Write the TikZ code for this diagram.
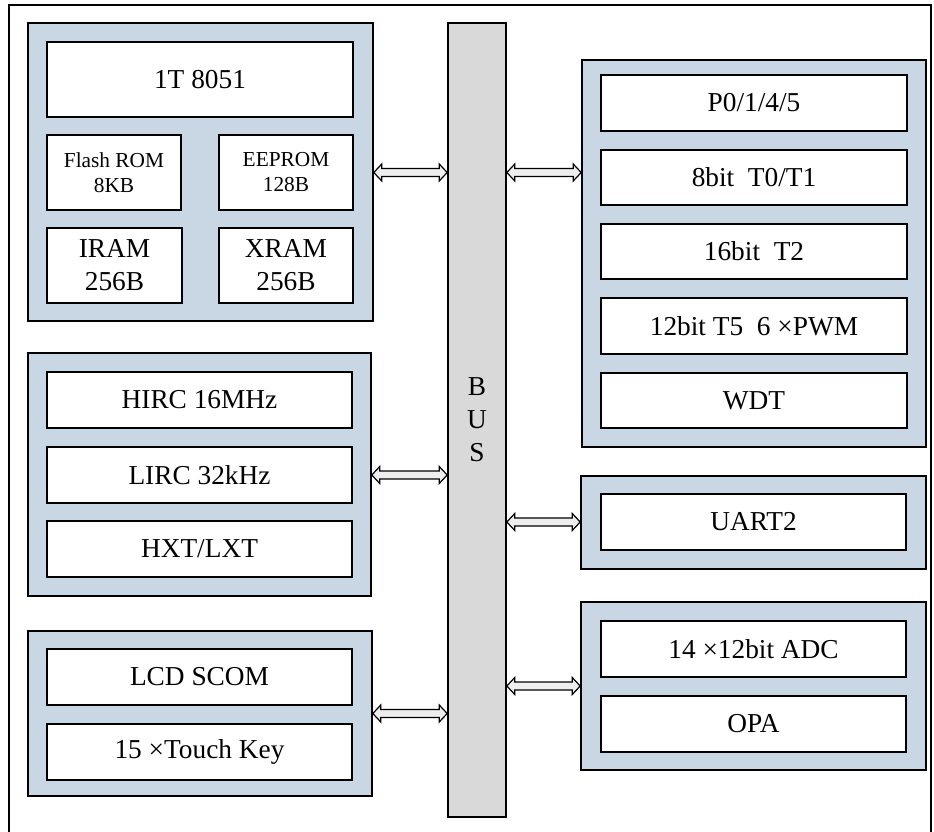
\documentclass[tikz,border=0pt]{standalone}
\usepackage{fontspec}
\setmainfont{Liberation Serif}
\usetikzlibrary{calc}
\definecolor{grpblue}{RGB}{201,214,228}
\definecolor{busgray}{RGB}{217,217,217}
\definecolor{linkfill}{RGB}{238,238,238}
\tikzset{
  % a box given by its corners (x1,y1) and (x2,y2)
  span/.style n args={4}{minimum width={(#3-#1)*0.75pt},
    minimum height={(#4-#2)*0.75pt}, at={({(#1+#3)/2},{(#2+#4)/2})}},
  grp/.style={draw, line width=1.2pt, fill=grpblue, inner sep=0pt},
  cell/.style={draw, line width=1.2pt, fill=white, inner sep=0pt,
    align=center, font=\fontsize{20.5}{24.75}\selectfont},
  smallcell/.style={cell, font=\fontsize{16}{18.75}\selectfont},
  busbar/.style={draw, line width=1.2pt, fill=busgray, inner sep=0pt,
    align=center, font=\fontsize{20.5}{24.75}\selectfont},
  % hollow double-headed block arrow between two points at equal height
  link/.style={draw, fill=linkfill, line width=0.9pt, line join=miter,
    to path={let \p1=(\tikztostart), \p2=(\tikztotarget) in
      (\x1,\y1) -- (\x1+6pt,\y1+6.4pt) -- (\x1+6pt,\y1+3pt)
      -- (\x2-6pt,\y1+3pt) -- (\x2-6pt,\y1+6.4pt) -- (\x2,\y1)
      -- (\x2-6pt,\y1-6.4pt) -- (\x2-6pt,\y1-3pt)
      -- (\x1+6pt,\y1-3pt) -- (\x1+6pt,\y1-6.4pt) -- cycle}},
}
\begin{document}
\begin{tikzpicture}[x=0.75pt, y=-0.75pt]
\useasboundingbox (0,0) rectangle (934,831);
% outer frame
\draw[line width=1pt] (9,845) -- (9,5) -- (931,5) -- (931,845);

% CPU and memories
\node[grp, span={28}{23}{373}{321}] (cpu) {};
\node[cell, span={47}{42}{353}{117}] (core) {1T 8051};
\node[smallcell, span={47}{135}{181}{210}] (flash) {Flash ROM\\8KB};
\node[smallcell, span={219}{135}{353}{210}] (eeprom) {EEPROM\\128B};
\node[cell, span={47}{228}{182}{303}] (iram) {IRAM\\256B};
\node[cell, span={219}{228}{353}{303}] (xram) {XRAM\\256B};

% clock sources
\node[grp, span={28}{353}{371}{596}] (clk) {};
\node[cell, span={47}{372}{352}{428}] (hirc) {HIRC 16MHz};
\node[cell, span={47}{447}{352}{503}] (lirc) {LIRC 32kHz};
\node[cell, span={47}{521}{352}{577}] (hxt) {HXT/LXT};

% LCD and touch
\node[grp, span={28}{631}{372}{796}] (lcdgrp) {};
\node[cell, span={47}{649}{352}{705}] (lcd) {LCD SCOM};
\node[cell, span={47}{724}{352}{780}] (touch) {15 ×Touch Key};

% system bus
\node[busbar, span={448}{23}{506}{817}] (bus) {B\\U\\S};

% ports and timers
\node[grp, span={582}{60}{926}{447}] (io) {};
\node[cell, span={601}{75}{907}{131}] (ports) {P0/1/4/5};
\node[cell, span={601}{150}{907}{205}] (t01) {8bit\ \ T0/T1};
\node[cell, span={601}{224}{907}{279}] (t2) {16bit\ \ T2};
\node[cell, span={601}{298}{907}{354}] (t5) {12bit T5\ \ 6 ×PWM};
\node[cell, span={601}{373}{907}{428}] (wdt) {WDT};

% serial
\node[grp, span={581}{476}{926}{569}] (uartgrp) {};
\node[cell, span={601}{494}{906}{550}] (uart) {UART2};

% analog
\node[grp, span={581}{602}{926}{770}] (adcgrp) {};
\node[cell, span={601}{621}{906}{677}] (adc) {14 ×12bit ADC};
\node[cell, span={601}{696}{906}{752}] (opa) {OPA};

% bus connections
\path[link] (cpu.east |- eeprom) to (bus.west |- eeprom);
\path[link] (bus.east |- eeprom) to (io.west |- eeprom);
\path[link] (clk.east |- lirc) to (bus.west |- lirc);
\path[link] (lcdgrp.east) to (bus.west |- lcdgrp.east);
\path[link] (bus.east |- uart) to (uartgrp.west |- uart);
\path[link] (bus.east |- adcgrp.west) to (adcgrp.west);
\end{tikzpicture}
\end{document}
